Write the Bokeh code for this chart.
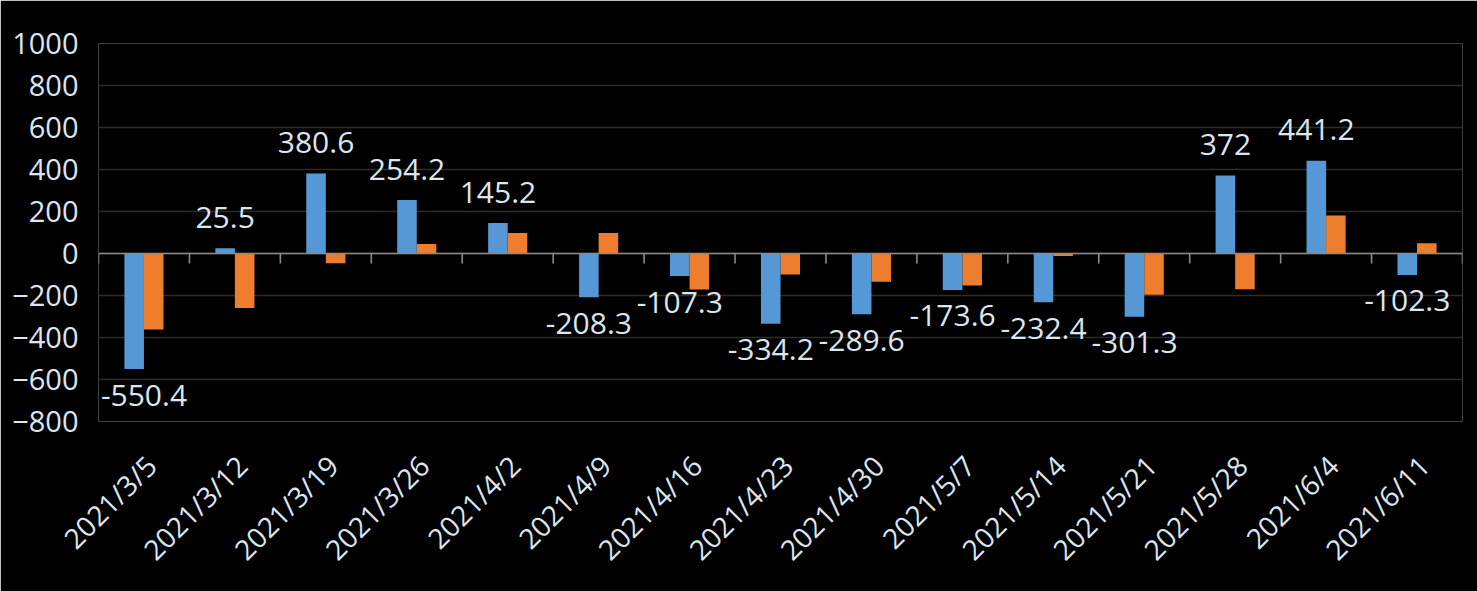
import math
from bokeh.plotting import figure
from bokeh.models import Range1d, FixedTicker, Span, LinearAxis
from bokeh.embed import file_html
from bokeh.resources import INLINE

dates = ["2021/3/5", "2021/3/12", "2021/3/19", "2021/3/26", "2021/4/2",
         "2021/4/9", "2021/4/16", "2021/4/23", "2021/4/30", "2021/5/7",
         "2021/5/14", "2021/5/21", "2021/5/28", "2021/6/4", "2021/6/11"]
blue_vals = [-550.4, 25.5, 380.6, 254.2, 145.2, -208.3, -107.3, -334.2,
             -289.6, -173.6, -232.4, -301.3, 372, 441.2, -102.3]
orange_vals = [-362, -260, -46, 45, 98, 98, -171, -100, -134, -152,
               -12, -197, -170, 181, 49]
y_ticks = [-800, -600, -400, -200, 0, 200, 400, 600, 800, 1000]

TEXT = "#dde5ee"
FONT = "Open Sans"
BAR_W = 0.215
n = len(dates)

W, H = 1477, 591
LEFT, RIGHT, TOP, BOTTOM = 98, 15, 43, 170
frame_w = W - LEFT - RIGHT

p = figure(width=W, height=H, output_backend="svg", toolbar_location=None,
           x_range=Range1d(0, n), y_range=Range1d(y_ticks[0], y_ticks[-1]),
           min_border_left=LEFT, min_border_right=RIGHT,
           min_border_top=TOP, min_border_bottom=BOTTOM)
p.background_fill_color = "black"
p.border_fill_color = "black"
p.outline_line_color = None

centers = [i + 0.5 for i in range(n)]
bx = [c - BAR_W / 2 for c in centers]
ox = [c + BAR_W / 2 for c in centers]

p.vbar(x=ox, top=orange_vals, bottom=0, width=BAR_W,
       fill_color="#ee7d2e", line_color=None)
p.vbar(x=bx, top=blue_vals, bottom=0, width=BAR_W,
       fill_color="#5698d6", line_color=None)

# zero axis line with category-boundary ticks
frame_h = H - TOP - BOTTOM
units_per_px = (y_ticks[-1] - y_ticks[0]) / frame_h
tick_len = 10 * units_per_px
p.add_layout(Span(location=0, dimension="width", line_color="#8a8a8a", line_width=1.6))
bounds = list(range(n + 1))
p.segment(x0=bounds, y0=[0] * len(bounds), x1=bounds, y1=[-tick_len] * len(bounds),
          line_color="#8a8a8a", line_width=1.6)

# data labels on blue series (kept inside the chart at the left edge)
lx = [max(x, 0.5) for x in bx]
pos = [(x, v) for x, v in zip(lx, blue_vals) if v >= 0]
neg = [(x, v) for x, v in zip(lx, blue_vals) if v < 0]
fmt = lambda v: ("%g" % v)
p.text(x=[a for a, _ in pos], y=[b for _, b in pos], text=[fmt(b) for _, b in pos],
       text_align="center", text_baseline="alphabetic", y_offset=-31,
       text_font={"value": FONT}, text_font_size="30px", text_color=TEXT)
p.text(x=[a for a, _ in neg], y=[b for _, b in neg], text=[fmt(b) for _, b in neg],
       text_align="center", text_baseline="alphabetic", y_offset=26,
       text_font={"value": FONT}, text_font_size="30px", text_color=TEXT)

# y axis
p.yaxis.ticker = FixedTicker(ticks=y_ticks)
p.yaxis.axis_line_color = None
p.yaxis.major_tick_line_color = None
p.yaxis.minor_tick_line_color = None
p.yaxis.major_label_standoff = 14
p.yaxis.major_label_text_font = FONT
p.yaxis.major_label_text_font_size = "29px"
p.yaxis.major_label_text_color = TEXT

p.ygrid.ticker = FixedTicker(ticks=y_ticks)
p.ygrid.grid_line_color = "#2c2c2c"
p.ygrid.grid_line_width = 1.6
p.xgrid.grid_line_color = None

# x axis: labels drawn on a slightly shifted companion range (7px to the right)
p.xaxis.visible = False
shift = 7 * n / frame_w
p.extra_x_ranges = {"lab": Range1d(-shift, n - shift)}
xa = LinearAxis(x_range_name="lab")
xa.ticker = FixedTicker(ticks=centers)
xa.major_label_overrides = {c: d for c, d in zip(centers, dates)}
xa.axis_line_color = None
xa.major_tick_line_color = None
xa.minor_tick_line_color = None
xa.major_label_orientation = math.pi / 4
xa.major_label_standoff = 33
xa.major_label_text_font = FONT
xa.major_label_text_font_size = "28px"
xa.major_label_text_color = TEXT
p.add_layout(xa, "below")

open("out.html", "w").write(file_html(p, INLINE))
